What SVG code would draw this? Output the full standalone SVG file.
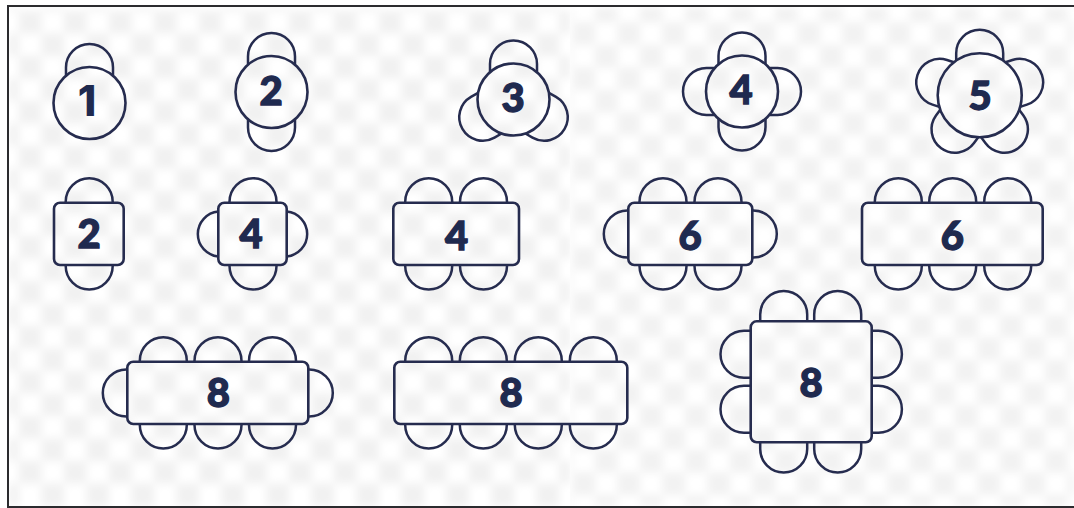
<svg xmlns="http://www.w3.org/2000/svg" width="1074" height="508" viewBox="0 0 1074 508">
<style>
.s{fill:none;stroke:#262c4f;stroke-width:2.5;stroke-linecap:butt}
.t{fill:none;stroke:#262c4f;stroke-width:2.6}
.n{font-family:"Lato","Inter","Liberation Sans",sans-serif;font-weight:900;font-size:40px;fill:#1f2a4f;stroke:#1f2a4f;stroke-width:1.3;text-anchor:middle}
.one{font-family:"Inter","Liberation Sans",sans-serif;font-weight:800;stroke:none;font-size:42px}
</style>
<defs>
<pattern id="chk" patternUnits="userSpaceOnUse" x="19" y="11" width="45" height="45">
<rect width="22.5" height="22.5" fill="#f1f1f1"/><rect x="22.5" y="22.5" width="22.5" height="22.5" fill="#f1f1f1"/>
</pattern>
<pattern id="chk2" patternUnits="userSpaceOnUse" x="10" y="0" width="45" height="45">
<rect width="22.5" height="22.5" fill="#f2f2f2"/><rect x="22.5" y="22.5" width="22.5" height="22.5" fill="#f2f2f2"/>
</pattern>
<filter id="soft" x="0" y="0" width="1" height="1"><feGaussianBlur stdDeviation="4"/></filter>
<path id="seat" class="s" d="M-23.5,0V-1A23.5,23.5 0 0 1 23.5,-1V0"/>
<path id="seat8" class="s" d="M-23.5,0V-6.7A23.5,23.5 0 0 1 23.5,-6.7V0"/>
<path id="side" class="s" d="M-22.5,0A22.6,22.6 0 0 1 22.5,0"/>
<path id="c36" class="s" d="M-23.5,-27.3V-35.5A23.5,23.5 0 0 1 23.5,-35.5V-27.3"/>
<path id="c42" class="s" d="M-23.5,-34.8V-42A23.5,23.5 0 0 1 23.5,-42V-34.8"/>
</defs>
<rect width="1074" height="508" fill="#fff"/>
<g id="background">
<rect x="9" y="7" width="561" height="499" fill="url(#chk)" filter="url(#soft)"/>
<rect x="570" y="7" width="504" height="499" fill="url(#chk2)" filter="url(#soft)"/>
<path d="M1074,6H8V507H1074" fill="none" stroke="#2b2b2e" stroke-width="2"/>
</g>
<g id="round-1"><use href="#c36" transform="translate(89.5,103)"/><circle class="t" cx="89.5" cy="103" r="36"/><text class="n one" x="87" y="116">1</text></g>
<g id="round-2"><use href="#c36" transform="translate(271.5,92)"/><use href="#c36" transform="translate(271.5,92) rotate(180)"/><circle class="t" cx="271.5" cy="92" r="36"/><text class="n" x="271" y="105">2</text></g>
<g id="round-3"><use href="#c36" transform="translate(513.5,99.5)"/><use href="#c36" transform="translate(513.5,99.5) rotate(120)"/><use href="#c36" transform="translate(513.5,99.5) rotate(240)"/><circle class="t" cx="513.5" cy="99.5" r="36"/><text class="n" x="513" y="112">3</text></g>
<g id="round-4"><use href="#c36" transform="translate(742,91.5)"/><use href="#c36" transform="translate(742,91.5) rotate(90)"/><use href="#c36" transform="translate(742,91.5) rotate(180)"/><use href="#c36" transform="translate(742,91.5) rotate(270)"/><circle class="t" cx="742" cy="91.5" r="36"/><text class="n" x="741" y="104">4</text></g>
<g id="round-5"><use href="#c42" transform="translate(979.7,95.3)"/><use href="#c42" transform="translate(979.7,95.3) rotate(72)"/><use href="#c42" transform="translate(979.7,95.3) rotate(144)"/><use href="#c42" transform="translate(979.7,95.3) rotate(216)"/><use href="#c42" transform="translate(979.7,95.3) rotate(288)"/><circle class="t" cx="979.7" cy="95.3" r="42"/><text class="n" x="980" y="110">5</text></g>
<g id="square-2"><rect class="t" x="54" y="202.7" width="69.7" height="62.3" rx="6"/><use href="#seat" transform="translate(89.2,202.7)"/><use href="#seat" transform="translate(89.2,265) rotate(180)"/><text class="n" x="89" y="248">2</text></g>
<g id="square-4"><rect class="t" x="218.3" y="202.7" width="68.4" height="62.3" rx="6"/><use href="#seat" transform="translate(253,202.7)"/><use href="#seat" transform="translate(253,265) rotate(180)"/><use href="#side" transform="translate(218.3,234) rotate(-90)"/><use href="#side" transform="translate(286.7,234) rotate(90)"/><text class="n" x="251" y="248">4</text></g>
<g id="rect-4"><rect class="t" x="393.3" y="202.7" width="125.7" height="62.3" rx="6"/><use href="#seat" transform="translate(428.7,202.7)"/><use href="#seat" transform="translate(483.5,202.7)"/><use href="#seat" transform="translate(428.7,265) rotate(180)"/><use href="#seat" transform="translate(483.5,265) rotate(180)"/><text class="n" x="456.7" y="250">4</text></g>
<g id="rect-6a"><rect class="t" x="628.3" y="202.7" width="124" height="62.3" rx="6"/><use href="#seat" transform="translate(663,202.7)"/><use href="#seat" transform="translate(718,202.7)"/><use href="#seat" transform="translate(663,265) rotate(180)"/><use href="#seat" transform="translate(718,265) rotate(180)"/><use href="#seat" transform="translate(628.3,234) rotate(-90)"/><use href="#seat" transform="translate(752.3,234) rotate(90)"/><text class="n" x="690" y="250">6</text></g>
<g id="rect-6b"><rect class="t" x="862" y="202.7" width="180.7" height="62.3" rx="6"/><use href="#seat" transform="translate(898.3,202.7)"/><use href="#seat" transform="translate(952.7,202.7)"/><use href="#seat" transform="translate(1007.7,202.7)"/><use href="#seat" transform="translate(898.3,265) rotate(180)"/><use href="#seat" transform="translate(952.7,265) rotate(180)"/><use href="#seat" transform="translate(1007.7,265) rotate(180)"/><text class="n" x="952.3" y="250">6</text></g>
<g id="rect-8a"><rect class="t" x="127.3" y="361.7" width="181" height="62.3" rx="6"/><use href="#seat" transform="translate(163.3,361.7)"/><use href="#seat" transform="translate(218,361.7)"/><use href="#seat" transform="translate(272.5,361.7)"/><use href="#seat" transform="translate(163.3,424) rotate(180)"/><use href="#seat" transform="translate(218,424) rotate(180)"/><use href="#seat" transform="translate(272.5,424) rotate(180)"/><use href="#seat" transform="translate(127.3,393) rotate(-90)"/><use href="#seat" transform="translate(308.3,393) rotate(90)"/><text class="n" x="218.3" y="407">8</text></g>
<g id="rect-8b"><rect class="t" x="394.3" y="361.7" width="233" height="62.3" rx="6"/><use href="#seat" transform="translate(428.7,361.7)"/><use href="#seat" transform="translate(483.3,361.7)"/><use href="#seat" transform="translate(538.3,361.7)"/><use href="#seat" transform="translate(593.3,361.7)"/><use href="#seat" transform="translate(428.7,424) rotate(180)"/><use href="#seat" transform="translate(483.3,424) rotate(180)"/><use href="#seat" transform="translate(538.3,424) rotate(180)"/><use href="#seat" transform="translate(593.3,424) rotate(180)"/><text class="n" x="511" y="407">8</text></g>
<g id="square-8"><rect class="t" x="750.7" y="321.3" width="121" height="121" rx="6"/><use href="#seat8" transform="translate(783.7,321.3)"/><use href="#seat8" transform="translate(837.7,321.3)"/><use href="#seat8" transform="translate(783.7,442.3) rotate(180)"/><use href="#seat8" transform="translate(837.7,442.3) rotate(180)"/><use href="#seat8" transform="translate(750.7,354.3) rotate(-90)"/><use href="#seat8" transform="translate(750.7,409.2) rotate(-90)"/><use href="#seat8" transform="translate(871.7,354.3) rotate(90)"/><use href="#seat8" transform="translate(871.7,409.2) rotate(90)"/><text class="n" x="811" y="397">8</text></g>
</svg>
